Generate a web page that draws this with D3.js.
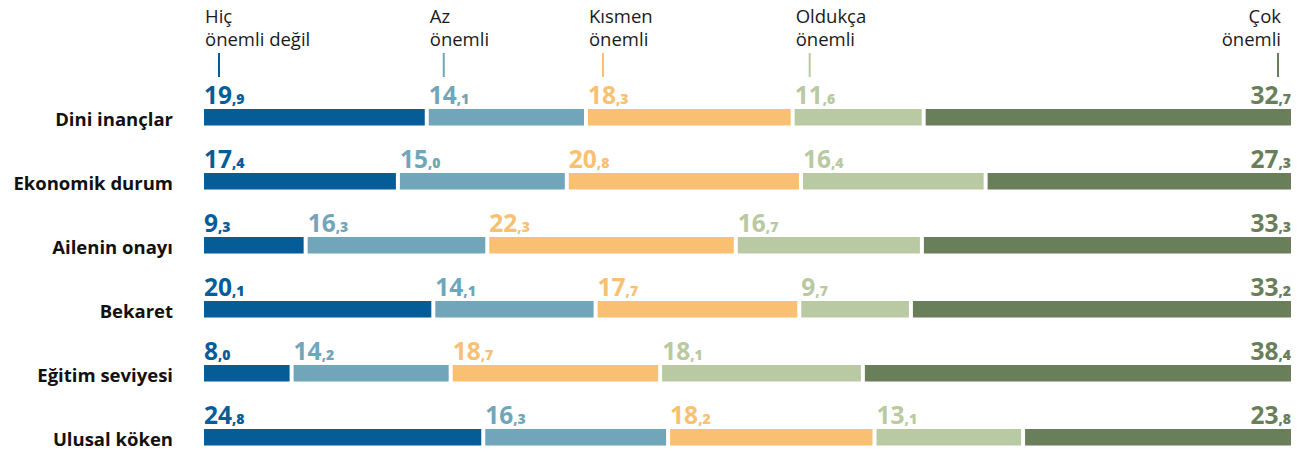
<!DOCTYPE html>
<html><head><meta charset="utf-8">
<script src="https://cdn.jsdelivr.net/npm/d3@7"></script>
<style>
html,body{margin:0;padding:0;background:#fff;}
svg{display:block;}
</style></head>
<body>
<script>
const categories = ["Dini inançlar","Ekonomik durum","Ailenin onayı","Bekaret","Eğitim seviyesi","Ulusal köken"];
const seriesLine1 = ["Hiç","Az","Kısmen","Oldukça","Çok"];
const seriesLine2 = ["önemli değil","önemli","önemli","önemli","önemli"];
const hicOnemliDegil = [19.9,17.4,9.3,20.1,8.0,24.8];
const azOnemli       = [14.1,15.0,16.3,14.1,14.2,16.3];
const kismenOnemli   = [18.3,20.8,22.3,17.7,18.7,18.2];
const oldukcaOnemli  = [11.6,16.4,16.7,9.7,18.1,13.1];
const cokOnemli      = [32.7,27.3,33.3,33.2,38.4,23.8];
const series = [hicOnemliDegil, azOnemli, kismenOnemli, oldukcaOnemli, cokOnemli];
const colors = ["#055d98","#71a6ba","#f9c072","#b9c9a1","#687f5a"];

const W = 1308, H = 452;
const x0 = 204, x1 = 1291, gap = 4;
const svg = d3.select("body").append("svg").attr("width",W).attr("height",H);

const y = d3.scaleBand().domain(categories).range([109, 109 + 64*6]).paddingInner(0).paddingOuter(0);
const barH = 16.5;

function ctext(g, x, yy, sx, anchor){
  return g.append("text").attr("transform",`translate(${x},${yy}) scale(${sx},1)`).attr("text-anchor",anchor);
}

const fmt = d3.format(".1f");
const rows = categories.map((c,i)=>{
  const vals = series.map(s=>s[i]);
  const total = d3.sum(vals);
  const xs = d3.scaleLinear().domain([0,total]).range([x0, x1+gap]);
  let cum = 0;
  const segs = vals.map((v,k)=>{const s={k, v, a:cum, b:cum+v}; cum+=v; return s;});
  return {c, i, xs, segs};
});

// header from first row
const hdr = svg.append("g");
rows[0].segs.forEach(s=>{
  const xs = rows[0].xs;
  const last = s.k===4;
  const tx = last ? x1-10 : xs(s.a)+1;
  const tickX = last ? x1-13 : xs(s.a)+15;
  const anchor = last ? "end" : "start";
  ctext(hdr, tx, 23, 1, anchor).attr("font-family","Open Sans").attr("font-size",18.5).attr("fill","#1a1a1a").text(seriesLine1[s.k]);
  ctext(hdr, tx, 46, 1, anchor).attr("font-family","Open Sans").attr("font-size",18.5).attr("fill","#1a1a1a").text(seriesLine2[s.k]);
  hdr.append("line").attr("x1",tickX).attr("x2",tickX).attr("y1",53).attr("y2",77)
    .attr("stroke",colors[s.k]).attr("stroke-width",2);
});

rows.forEach(r=>{
  const g = svg.append("g");
  const top = y(r.c);
  ctext(g, 173, top+barH, 1, "end").attr("font-family","Open Sans").attr("font-weight",700)
    .attr("font-size",18.5).attr("fill","#111").text(r.c);
  r.segs.forEach(s=>{
    const xa = r.xs(s.a), xb = r.xs(s.b)-gap;
    g.append("rect").attr("x",xa).attr("y",top).attr("width",xb-xa).attr("height",barH).attr("fill",colors[s.k]);
    const last = s.k===4;
    const parts = fmt(s.v).split(".");
    const t = ctext(g, last ? x1 : xa, top-5, 1, last?"end":"start")
      .attr("font-family","Open Sans").attr("font-weight",700).attr("fill",colors[s.k]);
    t.append("tspan").attr("font-size",24.5).text(parts[0]);
    t.append("tspan").attr("font-size",14).attr("font-weight",800).text(","+parts[1]);
  });
});
</script>
</body></html>
